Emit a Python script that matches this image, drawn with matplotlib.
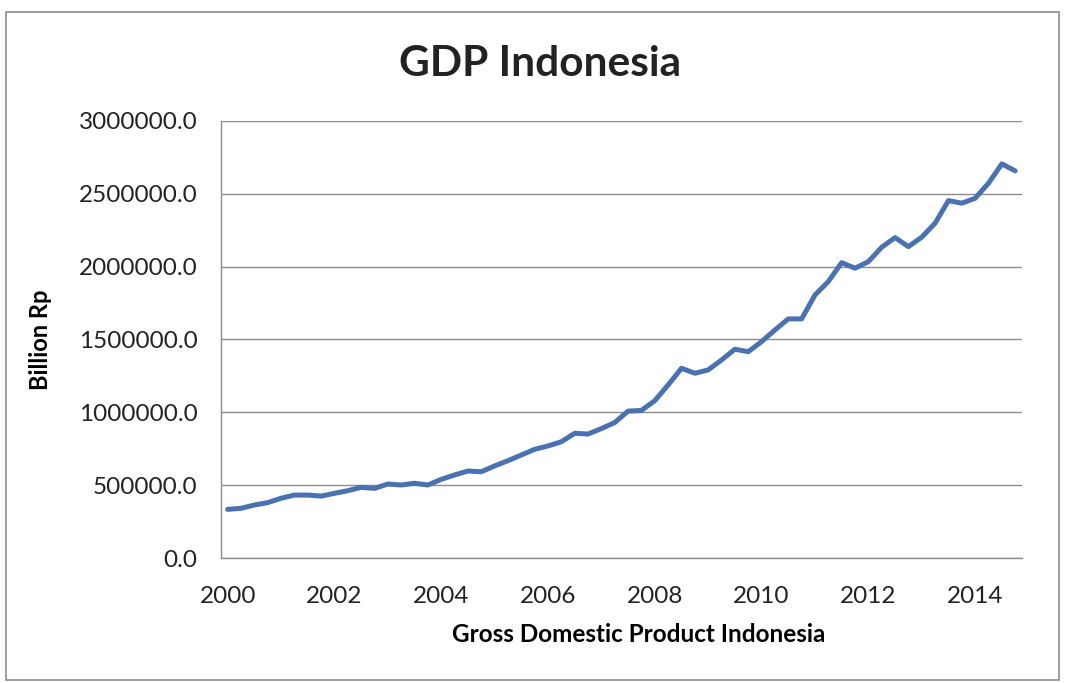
import matplotlib.pyplot as plt
from matplotlib.patches import Rectangle

# quarterly GDP, billion Rp, 2000 Q1 .. 2014 Q4
years = list(range(2000, 2015))
gdp = [334000, 341000, 364000, 380000, 410000, 432000, 432000, 425000,
       444000, 462000, 485000, 478000, 508000, 501000, 513000, 501000,
       540000, 570000, 597000, 592000, 632000, 668000, 707000, 746000,
       769000, 798000, 856000, 851000, 888000, 930000, 1008000, 1013000,
       1080000, 1188000, 1302000, 1268000, 1291000, 1359000, 1433000, 1416000,
       1485000, 1565000, 1641000, 1641000, 1805000, 1897000, 2027000, 1989000,
       2034000, 2133000, 2199000, 2137000, 2202000, 2298000, 2453000, 2435000,
       2469000, 2572000, 2705000, 2657000]
yticks = [0, 500000, 1000000, 1500000, 2000000, 2500000, 3000000]

plt.rcParams['font.family'] = ['Lato', 'DejaVu Sans']

fig = plt.figure(figsize=(10.65, 6.83), dpi=100)
ax = fig.add_axes([0.2075, 0.183, 0.752, 0.64])

x = list(range(len(gdp)))
ax.plot(x, gdp, color='#4a72b0', linewidth=3.6, solid_capstyle='round')

ax.set_xlim(-0.5, len(gdp) - 0.5)
ax.set_ylim(0, 3000000)
ax.set_yticks(yticks)
ax.set_yticklabels(['{:.1f}'.format(v) for v in yticks])
ax.set_xticks(x[::8])
ax.set_xticklabels([str(y) for y in years[::2]])
ax.tick_params(length=0, labelsize=17.5, colors='#222222')
ax.tick_params(axis='y', pad=17)
ax.tick_params(axis='x', pad=20)

ax.grid(axis='y', color='#8c8c8c', linewidth=1)
ax.set_axisbelow(True)
for side in ['top', 'right']:
    ax.spines[side].set_visible(False)
for side in ['left', 'bottom']:
    ax.spines[side].set_color('#8c8c8c')
    ax.spines[side].set_linewidth(1)

ax.set_ylabel('Billion Rp', fontsize=17, fontweight='bold', labelpad=19)
ax.set_xlabel('Gross Domestic Product Indonesia', fontsize=17.5,
              fontweight='bold', va='center')
ax.xaxis.set_label_coords(0.522, -0.176)
fig.text(0.507, 0.907, 'GDP Indonesia', ha='center', va='center',
         fontsize=30.5, fontweight='bold', color='#222222')

fig.add_artist(Rectangle((0.006, 0.005), 0.988, 0.977, transform=fig.transFigure,
                         fill=False, edgecolor='#8c8c8c', linewidth=1.2))

fig.savefig('out.png', dpi=100)
